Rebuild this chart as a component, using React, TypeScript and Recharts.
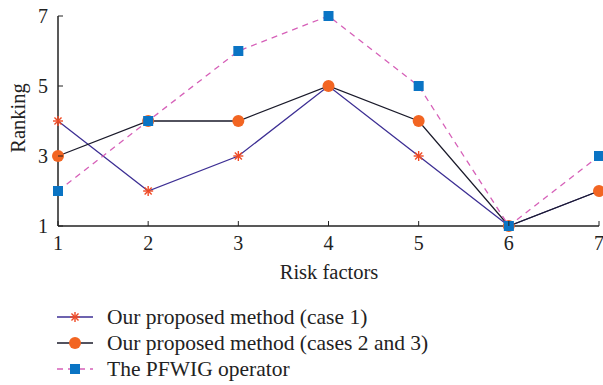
import { LineChart, Line, XAxis, YAxis } from "recharts"

const factors = [1, 2, 3, 4, 5, 6, 7]
const case1 = [4, 2, 3, 5, 3, 1, 2]
const cases23 = [3, 4, 4, 5, 4, 1, 2]
const pfwig = [2, 4, 6, 7, 5, 1, 3]
const xTicks = [1, 2, 3, 4, 5, 6, 7]
const yTicks = [1, 3, 5, 7]

const data = factors.map((f, i) => ({
  f,
  case1: case1[i],
  cases23: cases23[i],
  pfwig: pfwig[i],
}))

const FONT = "'Liberation Serif', 'DejaVu Serif', serif"
const AXIS = "#222"

const Star = ({ cx, cy }: any) => {
  if (cx == null || cy == null) return null
  const r = 5
  const d = r * 0.707
  return (
    <g stroke="#f04a24" strokeWidth={1.4}>
      <line x1={cx - r} y1={cy} x2={cx + r} y2={cy} />
      <line x1={cx} y1={cy - r} x2={cx} y2={cy + r} />
      <line x1={cx - d} y1={cy - d} x2={cx + d} y2={cy + d} />
      <line x1={cx - d} y1={cy + d} x2={cx + d} y2={cy - d} />
    </g>
  )
}

const Dot = ({ cx, cy }: any) => {
  if (cx == null || cy == null) return null
  return <circle cx={cx} cy={cy} r={6} fill="#f26522" />
}

const Square = ({ cx, cy }: any) => {
  if (cx == null || cy == null) return null
  return <rect x={cx - 5} y={cy - 5} width={10} height={10} fill="#0a74c4" />
}

const BottomTick = ({ x, y, payload }: any) => (
  <g>
    <line x1={x} y1={y} x2={x} y2={y - 5} stroke={AXIS} />
    <text x={x} y={y + 24} textAnchor="middle" fontFamily={FONT} fontSize={20} fill="#222">
      {payload.value}
    </text>
  </g>
)

const TopTick = ({ x, y }: any) => <line x1={x} y1={y} x2={x} y2={y + 5} stroke={AXIS} />

const LeftTick = ({ x, y, payload }: any) => (
  <g>
    <line x1={x} y1={y} x2={x + 5} y2={y} stroke={AXIS} />
    <text x={x - 10} y={y + 7} textAnchor="end" fontFamily={FONT} fontSize={20} fill="#222">
      {payload.value}
    </text>
  </g>
)

const RightTick = ({ x, y }: any) => <line x1={x} y1={y} x2={x - 5} y2={y} stroke={AXIS} />

const legendItems = [
  { label: "Our proposed method (case 1)", color: "#3d2f94", dash: undefined, marker: "star" },
  { label: "Our proposed method (cases 2 and 3)", color: "#1a1a2a", dash: undefined, marker: "dot" },
  { label: "The PFWIG operator", color: "#d660b8", dash: "6 5", marker: "square" },
]

export default function App() {
  return (
    <div style={{ position: "absolute", left: 0, top: 0, width: 603, height: 385, background: "#fff" }}>
      <LineChart
        width={603}
        height={385}
        data={data}
        margin={{ top: 16, right: 4, left: 28, bottom: 129 }}
      >
        <XAxis
          dataKey="f"
          type="number"
          domain={[1, 7]}
          ticks={xTicks}
          tickSize={0}
          tickMargin={0}
          tickLine={false}
          height={30}
          axisLine={{ stroke: AXIS, strokeWidth: 1.5 }}
          tick={<BottomTick />}
        />
        <XAxis
          xAxisId="top"
          orientation="top"
          dataKey="f"
          type="number"
          domain={[1, 7]}
          ticks={xTicks}
          tickSize={0}
          tickMargin={0}
          tickLine={false}
          height={0}
          axisLine={{ stroke: AXIS, strokeWidth: 1.5 }}
          tick={<TopTick />}
        />
        <YAxis
          type="number"
          domain={[1, 7]}
          ticks={yTicks}
          tickSize={0}
          tickMargin={0}
          tickLine={false}
          width={30}
          axisLine={{ stroke: AXIS, strokeWidth: 1.5 }}
          tick={<LeftTick />}
        />
        <YAxis
          yAxisId="right"
          orientation="right"
          type="number"
          domain={[1, 7]}
          ticks={yTicks}
          tickSize={0}
          tickMargin={0}
          tickLine={false}
          width={0}
          axisLine={{ stroke: AXIS, strokeWidth: 1.5 }}
          tick={<RightTick />}
        />
        <Line
          dataKey="case1"
          stroke="#3d2f94"
          strokeWidth={1.3}
          dot={<Star />}
          activeDot={false}
          isAnimationActive={false}
        />
        <Line
          dataKey="cases23"
          stroke="#1a1a2a"
          strokeWidth={1.3}
          dot={<Dot />}
          activeDot={false}
          isAnimationActive={false}
        />
        <Line
          dataKey="pfwig"
          stroke="#d660b8"
          strokeWidth={1.3}
          strokeDasharray="6 5"
          dot={<Square />}
          activeDot={false}
          isAnimationActive={false}
        />
      </LineChart>
      <div
        style={{
          position: "absolute",
          left: 18,
          top: 118,
          transform: "translate(-50%, -50%) rotate(-90deg)",
          transformOrigin: "center",
          fontFamily: FONT,
          fontSize: 20.5,
          color: "#222",
          whiteSpace: "nowrap",
          lineHeight: 1,
        }}
      >
        Ranking
      </div>
      <div
        style={{
          position: "absolute",
          left: 329,
          top: 272,
          transform: "translate(-50%, -50%)",
          fontFamily: FONT,
          fontSize: 20.5,
          color: "#222",
          whiteSpace: "nowrap",
          lineHeight: 1,
        }}
      >
        Risk factors
      </div>
      <svg style={{ position: "absolute", left: 0, top: 300 }} width={603} height={85}>
        {legendItems.map((it, i) => {
          const y = 17 + i * 26
          return (
            <g key={it.label}>
              <line x1={57} y1={y} x2={93} y2={y} stroke={it.color} strokeWidth={1.3} strokeDasharray={it.dash} />
              {it.marker === "star" && <Star cx={75} cy={y} />}
              {it.marker === "dot" && <Dot cx={75} cy={y} />}
              {it.marker === "square" && <Square cx={75} cy={y} />}
              <text x={107} y={y + 7} fontFamily={FONT} fontSize={21.5} fill="#222">
                {it.label}
              </text>
            </g>
          )
        })}
      </svg>
    </div>
  )
}
